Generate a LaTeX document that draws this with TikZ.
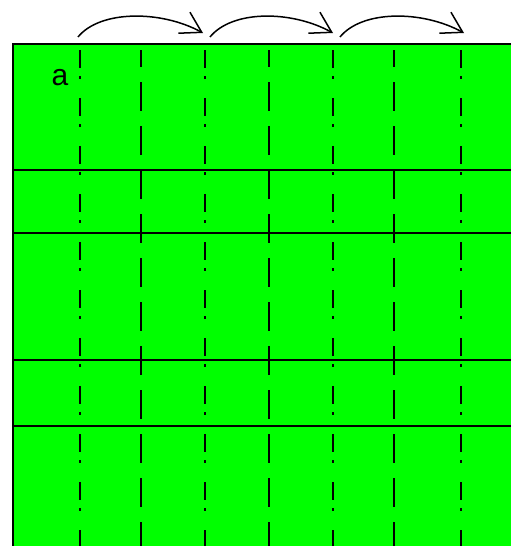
\documentclass[tikz,border=0pt]{standalone}
\usepackage{fontspec}
\setmainfont{Liberation Sans}
\usetikzlibrary{arrows.meta}

\begin{document}
\begin{tikzpicture}[
    x=1pt,y=-1pt,
    panel/.style={fill={rgb,255:red,0;green,255;blue,0},draw=black,line width=2pt},
    rowline/.style={draw=black,line width=2pt},
    dashline/.style={line width=2.5pt,dash pattern=on 29pt off 15pt,dash phase=12pt},
    dotline/.style={line width=2.5pt,dash pattern=on 18pt off 8pt on 3pt off 19pt},
    hop/.style={-{Straight Barb[length=20pt,width=24pt,line width=1.5pt]},line width=1.5pt}
]
\useasboundingbox (0,0) rectangle (511,546);
\clip (0,0) rectangle (511,546);
\draw[panel] (13,44) rectangle (530,570);
% row separators
\draw[rowline] (13,170)--(530,170);
\draw[rowline] (13,233)--(530,233);
\draw[rowline] (13,360)--(530,360);
\draw[rowline] (13,426)--(530,426);
% column lines
\draw[dotline] (80,50)--(80,560);
\draw[dashline] (141,50)--(141,560);
\draw[dotline] (205,50)--(205,560);
\draw[dashline] (269,50)--(269,560);
\draw[dotline] (333,50)--(333,560);
\draw[dashline] (394,50)--(394,560);
\draw[dotline] (461,50)--(461,560);
\node[font=\fontsize{30}{30}\selectfont,inner sep=0pt] (lbl) at (60,78) {a};
% shift arrows
\coordinate (s1) at (78,37);
\coordinate (e1) at (203,33);
\coordinate (s2) at (210,37);
\coordinate (e2) at (333,33);
\coordinate (s3) at (340,37);
\coordinate (e3) at (464,33);
\draw[hop] (s1) .. controls +(22,-27) and +(-42,-23) .. (e1);
\draw[hop] (s2) .. controls +(22,-27) and +(-42,-23) .. (e2);
\draw[hop] (s3) .. controls +(22,-27) and +(-42,-23) .. (e3);
\end{tikzpicture}
\end{document}
